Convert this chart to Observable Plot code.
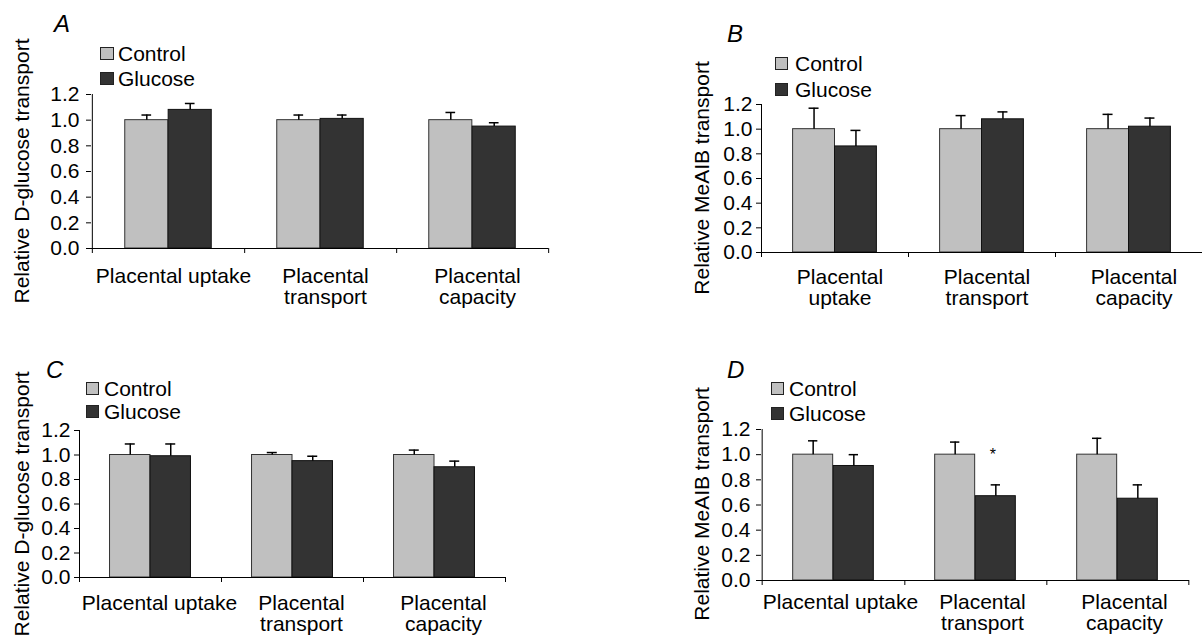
<!DOCTYPE html>
<html><head><meta charset="utf-8">
<script src="https://cdn.jsdelivr.net/npm/d3@7"></script>
<script src="https://cdn.jsdelivr.net/npm/@observablehq/plot@0.6"></script>
<style>
html,body{margin:0;padding:0;background:#fff;}
#root{position:relative;width:1202px;height:635px;overflow:hidden;font-family:"Liberation Sans",Arial,Helvetica,sans-serif;color:#000;}
.abs{position:absolute;}
.letter{font-size:24px;font-style:italic;line-height:24px;white-space:nowrap;}
.ylab{font-size:21px;line-height:21px;white-space:nowrap;transform:translate(-50%,-50%) rotate(-90deg);}
.leg{font-size:21px;line-height:21px;height:21px;display:flex;align-items:center;white-space:nowrap;}
.sw{box-sizing:border-box;border:1px solid #222;}
</style></head><body><div id="root"></div><script>
// ---------- data ----------
const groups = ["Control", "Glucose"];
const labelsOneLine = ["Placental uptake", "Placental\ntransport", "Placental\ncapacity"];
const labelsTwoLine = ["Placental\nuptake", "Placental\ntransport", "Placental\ncapacity"];
const yTicks = [0, 0.2, 0.4, 0.6, 0.8, 1.0, 1.2];
const yTitleGlucose = "Relative D-glucose transport";
const yTitleMeAIB = "Relative MeAIB transport";

// Panel A: D-glucose
const ctrlA = [1.00, 1.00, 1.00];
const ctrlErrA = [0.04, 0.04, 0.06];
const glucA = [1.08, 1.01, 0.95];
const glucErrA = [0.05, 0.03, 0.03];
// Panel B: MeAIB
const ctrlB = [1.00, 1.00, 1.00];
const ctrlErrB = [0.17, 0.11, 0.12];
const glucB = [0.86, 1.08, 1.02];
const glucErrB = [0.13, 0.06, 0.07];
// Panel C: D-glucose
const ctrlC = [1.00, 1.00, 1.00];
const ctrlErrC = [0.09, 0.02, 0.04];
const glucC = [0.99, 0.95, 0.90];
const glucErrC = [0.10, 0.04, 0.05];
// Panel D: MeAIB
const ctrlD = [1.00, 1.00, 1.00];
const ctrlErrD = [0.11, 0.10, 0.13];
const glucD = [0.91, 0.67, 0.65];
const glucErrD = [0.09, 0.09, 0.11];
const sigD = [1]; // index of category marked with *

// ---------- styles / layout ----------
const ctrlFill = "#c0c0c0", glucFill = "#333333";
const font = '"Liberation Sans", Arial, Helvetica, sans-serif';

const panels = [
  {letter:"A", ctrl:ctrlA, ctrlErr:ctrlErrA, gluc:glucA, glucErr:glucErrA, labels:labelsOneLine, ytitle:yTitleGlucose, sig:[],
   svg:{left:0, top:0, width:600, height:320}, plot:{left:91, right:548, top:94, bottom:248},
   tickPad:7, labelPad:19, labelDx:5, letterPos:{left:54, base:32}, legend:{left:100, c:[53.5,78.5], gap:4, w:14, h:13}, ylabPos:{x:21, y:171}},
  {letter:"B", ctrl:ctrlB, ctrlErr:ctrlErrB, gluc:glucB, glucErr:glucErrB, labels:labelsTwoLine, ytitle:yTitleMeAIB, sig:[],
   svg:{left:600, top:0, width:602, height:320}, plot:{left:761, right:1202, top:104, bottom:252},
   tickPad:4, labelPad:16, labelDx:5, letterPos:{left:727, base:42}, legend:{left:775, c:[63,89], gap:7, w:13, h:13}, ylabPos:{x:701, y:178}},
  {letter:"C", ctrl:ctrlC, ctrlErr:ctrlErrC, gluc:glucC, glucErr:glucErrC, labels:labelsOneLine, ytitle:yTitleGlucose, sig:[],
   svg:{left:0, top:320, width:600, height:315}, plot:{left:79, right:505, top:430, bottom:577},
   tickPad:4, labelPad:17, labelDx:9, letterPos:{left:46, base:378}, legend:{left:86, c:[388,411], gap:5, w:13, h:13}, ylabPos:{x:21, y:504}},
  {letter:"D", ctrl:ctrlD, ctrlErr:ctrlErrD, gluc:glucD, glucErr:glucErrD, labels:labelsOneLine, ytitle:yTitleMeAIB, sig:sigD,
   svg:{left:600, top:320, width:602, height:315}, plot:{left:761, right:1189, top:429, bottom:580},
   tickPad:6, labelPad:13, labelDx:7, letterPos:{left:727, base:378}, legend:{left:771, c:[388.5,413], gap:5, w:13, h:13}, ylabPos:{x:701, y:504}}
];

const root = document.getElementById("root");

function addDiv(cls, text, css) {
  const d = document.createElement("div");
  d.className = "abs " + cls;
  if (text != null) d.textContent = text;
  Object.assign(d.style, css);
  root.appendChild(d);
  return d;
}

for (const p of panels) {
  const bw = (p.plot.right - p.plot.left) / 3;
  const barW = 0.285 * bw;
  const off = barW / 2;
  const cap = 5;
  const ctrlRows = p.labels.map((c, i) => ({cat: c, value: p.ctrl[i], err: p.ctrlErr[i]}));
  const glucRows = p.labels.map((c, i) => ({cat: c, value: p.gluc[i], err: p.glucErr[i]}));
  const sigRows = p.sig.map(i => ({cat: p.labels[i], y: p.ctrl[i]}));

  const chart = Plot.plot({
    width: p.svg.width,
    height: p.svg.height,
    marginLeft: p.plot.left - p.svg.left,
    marginRight: p.svg.left + p.svg.width - p.plot.right,
    marginTop: p.plot.top - p.svg.top,
    marginBottom: p.svg.top + p.svg.height - p.plot.bottom,
    style: {fontFamily: font, fontSize: "21px", color: "#000", background: "transparent", overflow: "visible"},
    x: {domain: p.labels, padding: 0},
    y: {domain: [0, 1.2]},
    marks: [
      Plot.barY(ctrlRows, {x: "cat", y: "value", fill: ctrlFill, stroke: "#333", strokeWidth: 1,
        insetLeft: bw / 2 - barW, insetRight: bw / 2}),
      Plot.barY(glucRows, {x: "cat", y: "value", fill: glucFill, stroke: "#111", strokeWidth: 1,
        insetLeft: bw / 2, insetRight: bw / 2 - barW}),
      // error bars (upper only)
      Plot.ruleX(ctrlRows, {x: "cat", y1: "value", y2: d => d.value + d.err, dx: -off, stroke: "#000", strokeWidth: 1.5}),
      Plot.tickY(ctrlRows, {x: "cat", y: d => d.value + d.err, insetLeft: bw / 2 - off - cap, insetRight: bw / 2 + off - cap, stroke: "#000", strokeWidth: 1.5}),
      Plot.ruleX(glucRows, {x: "cat", y1: "value", y2: d => d.value + d.err, dx: off, stroke: "#000", strokeWidth: 1.5}),
      Plot.tickY(glucRows, {x: "cat", y: d => d.value + d.err, insetLeft: bw / 2 + off - cap, insetRight: bw / 2 - off - cap, stroke: "#000", strokeWidth: 1.5}),
      // axes lines
      Plot.ruleY([0], {stroke: "#000", strokeWidth: 1}),
      Plot.ruleX([p.labels[0]], {x: d => d, dx: -bw / 2, insetBottom: -5, stroke: "#000", strokeWidth: 1}),
      Plot.ruleX(p.labels, {x: d => d, y1: 0, y2: 0, dx: bw / 2, insetBottom: -5, stroke: "#000", strokeWidth: 1}),
      Plot.axisY(yTicks, {anchor: "left", tickSize: 5, tickPadding: p.tickPad, tickFormat: d => d.toFixed(1), label: null, stroke: "#000"}),
      Plot.axisX({anchor: "bottom", tickSize: 0, tickPadding: p.labelPad, dx: p.labelDx, lineHeight: 1.02, label: null}),
      Plot.text(sigRows, {x: "cat", y: "y", text: () => "*", dx: off - 3, fontSize: 16, lineAnchor: "middle"})
    ]
  });
  chart.style.position = "absolute";
  chart.style.left = p.svg.left + "px";
  chart.style.top = p.svg.top + "px";
  root.appendChild(chart);

  // panel letter
  addDiv("letter", p.letter, {left: p.letterPos.left + "px", top: (p.letterPos.base - 20.3) + "px"});
  // y title
  addDiv("ylab", p.ytitle, {left: p.ylabPos.x + "px", top: p.ylabPos.y + "px"});
  // legend
  groups.forEach((g, i) => {
    const row = addDiv("leg", null, {left: p.legend.left + "px", top: (p.legend.c[i] - 10.5) + "px"});
    const sw = document.createElement("span");
    sw.className = "sw";
    sw.style.width = p.legend.w + "px";
    sw.style.height = p.legend.h + "px";
    sw.style.background = i === 0 ? ctrlFill : glucFill;
    sw.style.marginRight = p.legend.gap + "px";
    const t = document.createElement("span");
    t.textContent = g;
    row.appendChild(sw);
    row.appendChild(t);
  });
}
</script></body></html>
